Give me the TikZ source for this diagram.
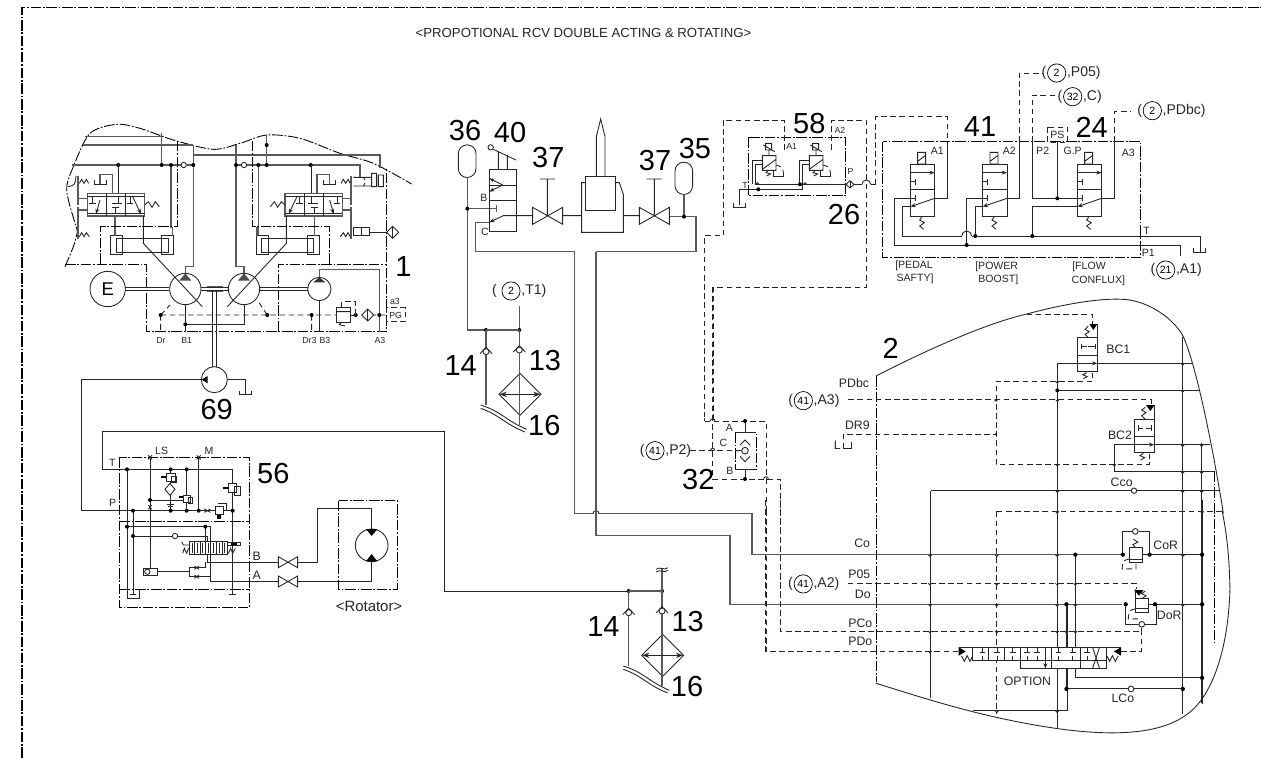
\documentclass[tikz,border=0pt]{standalone}
\usepackage{fontspec}
\setmainfont{Liberation Sans}
\usetikzlibrary{positioning,arrows.meta}

\tikzset{
  pipe/.style={line width=0.5pt, black!85},
  heavy/.style={line width=0.8pt, black!65},
  pilot/.style={line width=0.5pt, black!85, dash pattern=on 3.2pt off 2pt},
  casing/.style={line width=0.5pt, black, dash pattern=on 6pt off 1pt on 1pt off 1pt},
  bignum/.style={font=\fontsize{16.5}{17}\selectfont, inner sep=0pt},
  portlbl/.style={font=\fontsize{7}{8}\selectfont, inner sep=0pt, black!85},
  reflbl/.style={font=\fontsize{8}{9}\selectfont, inner sep=0pt, black!85},
  smalllbl/.style={font=\fontsize{6}{7}\selectfont, inner sep=0pt, black!85},
  tinylbl/.style={font=\fontsize{5}{6}\selectfont, inner sep=0pt, black!85},
  circnum/.style={draw, circle, minimum size=10.4pt, inner sep=0pt, font=\fontsize{6}{6}\selectfont},
}

\newcommand{\jdots}[1]{\foreach \x/\y in {#1} \fill (\x,\y) circle (6);}
\newcommand{\hopup}[2]{\foreach \x/\y in {#2} \draw[pipe] (\x-#1,\y) arc[start angle=180,end angle=360,radius=#1];}
\newcommand{\hopdn}[2]{\foreach \x/\y in {#2} \draw[pipe] (\x-#1,\y) arc[start angle=180,end angle=0,radius=#1];}
\newcommand{\checkvup}[2]{\draw[pipe,fill=white] (#1,#2+3) circle (9); \draw[pipe] (#1-18,#2+9) -- (#1,#2-10) -- (#1+18,#2+9);}
\newcommand{\checkh}[2]{\draw[pipe,fill=white] (#1,#2) circle (8);}
\newcommand{\drain}[2]{\draw[pipe] (#1-18,#2-12) -- (#1-18,#2) -- (#1+18,#2) -- (#1+18,#2-12);}
\newcommand{\portref}[6]{
  \node[circnum] (#1) at (#2) {#3};
  \node[reflbl,left=#6 of #1] (#1l) {#4};
  \node[reflbl,right=0.3pt of #1] (#1r) {#5};
}

% one half of the main pump: spool, servo and drain
\newcommand{\pumpside}{
  \draw[heavy] (142,310) rectangle (314,378);
  \draw[pipe] (142,318) -- (314,318) (142,370) -- (314,370) (200,310) -- (200,378) (257,310) -- (257,378);
  \draw[pipe] (158,318) -- (158,340) (148,340) -- (168,340);
  \draw[-{Stealth[length=3pt]},pipe] (180,330) -- (168,372);
  \draw[pipe] (235,318) -- (235,340) (215,340) -- (245,340) (225,352) -- (225,370) (215,352) -- (237,352);
  \draw[-{Stealth[length=3pt]},pipe] (278,320) -- (303,372);
  \draw[pipe] (270,318) -- (270,340) (260,340) -- (280,340);
  \draw[pipe] (314,345) -- (325,335) -- (336,352) -- (346,335) -- (358,350);
  \draw[heavy] (218,310) -- (218,253) -- (180,253) -- (180,282);
  \drain{180}{282}
  \draw[pipe] (235,225) -- (235,310);
  \draw[line width=1.2pt,black!65] (115,257) -- (115,345) (115,350) -- (115,448);
  \draw[heavy] (115,325) -- (142,325) (115,360) -- (142,360);
  \draw[pipe] (118,280) -- (125,268) -- (132,280) -- (139,268) -- (146,280);
  \draw[pipe] (118,440) -- (125,428) -- (132,440) -- (139,428) -- (148,440);
  \draw[pipe] (212,437) rectangle (248,494) (365,437) rectangle (400,494) (230,445) rectangle (385,487);
  \draw[heavy] (225,378) -- (225,437);
  \draw[pipe] (310,378) -- (310,460) -- (487,650);
  \draw[casing] (182,522) -- (182,410) -- (413,410) -- (413,150);
  \draw[heavy] (398,410) -- (398,437);
}

% return line group: two checks and the cooler
\newcommand{\returnset}[1]{
  \fill (168,720) circle (6);
  \fill (268,720) circle (6);
  \draw[heavy] (168,720) -- (268,720);
  \draw[heavy] (168,720) -- (168,945);
  \draw[heavy] (268,720) -- (268,1005);
  \checkvup{168}{782}
  \checkvup{268}{777}
  \draw[pipe,fill=white] (270,850) -- (333,913) -- (270,976) -- (207,913) -- cycle;
  \draw[heavy] (268,850) -- (268,1005);
  \draw[pipe,{Stealth[length=4pt]}-{Stealth[length=4pt]}] (209,913) -- (331,913);
  \draw[pipe] (152,945) .. controls (215,965) and (225,990) .. (290,1018);
  \draw[pipe] (152,955) .. controls (210,975) and (220,1000) .. (285,1026);
  \node[bignum] (n14#1) at (92,828) {14};
  \node[bignum] (n13#1) at (345,812) {13};
  \node[bignum] (n16#1) at (343,1008) {16};
}

% solenoid valve of block 41
\newcommand{\solvalve}[1]{
  \begin{scope}[shift={(#1,0)}]
    \draw[pipe] (0,222) rectangle (73,378) (0,298) -- (73,298);
    \draw[pipe,-{Stealth[length=3pt]}] (0,248) -- (73,248);
    \draw[pipe] (0,275) -- (14,275) (14,266) -- (14,284) (0,325) -- (14,325) (14,316) -- (14,334);
    \draw[pipe,{Stealth[length=3pt]}-] (0,350) -- (73,325);
    \draw[pipe] (22,187) rectangle (46,222) (22,214) -- (46,196);
    \draw[pipe] (36,378) -- (28,390) -- (42,398) -- (28,408) -- (40,418);
  \end{scope}
}

% pressure reducing cell of block 58
\newcommand{\rcvcell}[1]{
  \begin{scope}[shift={(#1,0)}]
    \draw[pipe] (67,197) rectangle (108,241) (67,238) -- (108,208);
    \draw[pipe] (77,160) rectangle (95,180) (87,180) -- (87,197) (70,165) -- (104,185);
    \draw[pipe] (67,212) -- (38,212) -- (38,283) (67,222) -- (46,222) -- (46,283);
    \draw[pipe] (85,241) -- (78,248) -- (92,252) -- (80,258);
    \draw[pipe,densely dashed] (108,225) .. controls (125,230) .. (130,245);
    \draw[pipe] (100,241) -- (100,260) -- (130,260) -- (130,245);
  \end{scope}
}

\begin{document}
\begin{tikzpicture}[x=0.02cm,y=-0.02cm]
\useasboundingbox (0,0) rectangle (1261,758);

% frame and title
\draw[casing,line width=0.7pt] (22,758) -- (22,7.5) -- (1261,7.5);
\node[font=\fontsize{7.5}{8}\selectfont, inner sep=0pt, black!85] (title) at (583.5,33) {<PROPOTIONAL RCV DOUBLE ACTING \& ROTATING>};

% main pump 1
\begin{scope}[shift={(40,90)},scale=1/3]
  \draw[casing] plot[smooth] coordinates {(75,530) (100,470) (112,425) (105,400) (80,300) (100,230) (150,130) (230,103) (300,115) (400,150) (520,178) (600,160) (680,135) (780,145) (900,190) (1000,220) (1115,282)};
  \draw[casing] (75,522) -- (320,522) -- (320,725) -- (1040,725) -- (1040,235);
  \draw[casing] (715,725) -- (715,522) -- (1040,522);
  \draw[heavy] (135,140) -- (365,140) (130,165) -- (460,165) (365,130) -- (365,225);
  \draw[heavy] (95,225) -- (422,225) (442,225) -- (460,225) (460,165) -- (460,530) -- (437,530) -- (437,552);
  \draw[heavy] (460,195) -- (1020,195) -- (1020,235);
  \draw[heavy] (588,165) -- (588,530) -- (612,530) -- (612,552);
  \draw[heavy] (680,135) -- (680,225);
  \draw[heavy] (590,225) -- (602,225) (622,225) -- (960,225) -- (960,260);
  \draw[heavy] (393,225) -- (393,415);
  \draw[heavy] (655,225) -- (655,437);
  \checkh{431}{225}
  \checkh{612}{225}
  \jdots{235/225,365/225,393/225,460/225,588/225,655/225,680/225,812/225,680/165}
  \pumpside
  \begin{scope}[shift={(1049,0)},xscale=-1]
    \pumpside
  \end{scope}
  \draw[pipe] (85,290) .. controls (105,285) .. (108,258);
  \draw[pipe] (940,262) -- (970,262) -- (975,270) (940,288) -- (970,288) -- (975,280) (970,262) -- (995,262) (970,288) -- (995,288) (995,250) rectangle (1010,290) (1015,255) rectangle (1030,290);
  \draw[pipe] (940,413) rectangle (988,437) (965,413) -- (965,437) (988,427) -- (1040,427);
  \draw[pipe,fill=white] (1058,409) -- (1076,427) -- (1058,445) -- (1040,427) -- cycle;
  \draw[pipe] (1058,409) -- (1058,445);
  % units on the shaft
  \draw[pipe] (203,597) circle (53);
  \node[font=\fontsize{10.5}{11}\selectfont] (engine) at (203,597) {E};
  \draw[pipe] (436,597) circle (47) (612,597) circle (47) (838,597) circle (35);
  \fill[black!70] (418,572) -- (454,572) -- (436,550) -- cycle;
  \fill[black!70] (594,572) -- (630,572) -- (612,550) -- cycle;
  \fill[black!80] (820,577) -- (856,577) -- (838,562) -- cycle;
  \draw[pipe] (255,593) -- (388,593) (255,601) -- (388,601) (483,593) -- (565,593) (483,601) -- (565,601) (660,593) -- (805,593) (660,601) -- (805,601);
  \draw[heavy] (500,590) -- (548,590) (500,604) -- (548,604);
  \draw[pipe] (518,604) -- (518,830) (528,604) -- (528,830);
  \draw[heavy] (838,562) -- (838,538) -- (1018,538) -- (1018,725);
  \draw[pipe] (838,632) -- (838,725);
  \draw[pipe] (436,645) -- (436,725) (436,703) -- (612,703) -- (612,645);
  \draw[pilot] (362,675) -- (1040,675) (362,675) -- (390,645) (682,675) -- (655,635) (362,675) -- (362,725) (815,675) -- (815,725);
  \jdots{362/675,682/675,815/675,947/675,1018/675,436/703}
  \draw[pipe,fill=white] (888,652) rectangle (930,697);
  \draw[pipe] (888,665) -- (930,665) (905,697) -- (898,704) -- (915,708);
  \draw[pilot] (905,652) -- (905,635) -- (947,635) -- (947,675) (930,675) -- (947,675);
  \draw[pipe,fill=white] (983,657) -- (1001,675) -- (983,693) -- (965,675) -- cycle;
  \draw[pipe] (983,657) -- (983,693);
  \draw[pilot,fill=white] (1040,653) rectangle (1096,694);
  \node[tinylbl] (pg) at (1067,675) {PG};
  \node[tinylbl] (a3) at (1065,633) {a3};
  \node[tinylbl] (dr) at (363,750) {Dr};
  \node[tinylbl] (b1) at (440,752) {B1};
  \node[tinylbl] (dr3) at (808,750) {Dr3};
  \node[tinylbl] (b3) at (855,750) {B3};
  \node[tinylbl] (a3b) at (1020,752) {A3};
  \node[bignum] (n1) at (1090,530) {1};
\end{scope}

% rotator circuit
\begin{scope}[shift={(60,350)},scale=1/3]
  \draw[pipe] (463,89) circle (39);
  \fill (443,78) -- (443,100) -- (425,89) -- cycle;
  \draw[pipe] (425,89) -- (65,89) -- (65,482) -- (520,482);
  \draw[pipe] (502,89) -- (555,89) -- (555,134);
  \drain{555}{134}
  \node[bignum] (n69) at (470,178) {69};
  \draw[pipe] (518,733) -- (518,358) -- (128,358) -- (128,244) -- (1153,244) -- (1153,723) -- (1806,723);
  \draw[casing] (178,322) rectangle (568,773) (178,515) -- (568,515) (178,717) -- (568,717);
  \draw[pipe] (264,316) -- (276,328) (264,328) -- (276,316) (410,316) -- (422,328) (410,328) -- (422,316);
  \draw[pipe] (270,322) -- (270,656) (416,322) -- (416,482);
  \node[smalllbl] (ls) at (305,302) {LS};
  \node[smalllbl] (m) at (447,302) {M};
  \node[smalllbl] (t) at (157,338) {T};
  \node[smalllbl] (p) at (158,458) {P};
  \node[bignum] (n56) at (640,370) {56};
  \draw[pipe] (201,358) -- (201,745) -- (237,745) -- (237,720);
  \draw[pipe] (219,482) -- (219,733) (209,733) -- (229,733) (508,733) -- (528,733);
  \draw[pipe] (201,530) -- (452,530) -- (452,695) -- (655,695);
  \draw[pipe] (219,558) -- (335,558) (355,558) -- (442,558) -- (442,575);
  \checkh{345}{558}
  \draw[pipe] (436,530) -- (436,578);
  \draw[pipe] (442,613) -- (442,636) -- (655,636);
  \draw[pipe] (332,358) -- (332,482) (380,358) -- (380,482) (270,450) -- (368,450);
  \draw[pipe,fill=white] (330,400) -- (345,418) -- (330,436) -- (315,418) -- cycle;
  \draw[pipe] (320,462) -- (342,462) (323,468) -- (338,468);
  % small reliefs
  \draw[pipe,fill=white] (318,370) rectangle (345,395) (334,378) rectangle (348,398);
  \draw[pipe,fill=white] (370,436) rectangle (390,456) (385,442) rectangle (398,460);
  \draw[pipe,fill=white] (506,400) rectangle (528,428) (522,408) rectangle (542,436);
  \draw[pipe,fill=white] (466,470) rectangle (490,492) (475,460) -- (498,460) -- (498,480);
  \draw[line width=1.2pt] (303,382) -- (318,382) (358,441) -- (370,441) (488,413) -- (506,413) (472,497) -- (484,497) (472,503) -- (484,503);
  \draw[pipe] (433,477) -- (451,487) (433,487) -- (451,477) (265,465) -- (275,478) (265,478) -- (275,465);
  \jdots{201/358,332/358,380/358,219/482,332/482,380/482,416/482,518/482,270/450,201/530,219/558,436/530}
  % spool of the rotator valve
  \draw[pipe] (388,575) rectangle (503,613);
  \foreach \x in {404,420,436,452,470,486} \draw[pipe] (\x,575) -- (\x,613);
  \draw[pipe] (396,580) -- (396,608) (412,580) -- (412,608) (428,580) -- (428,608) (444,580) -- (444,608) (460,580) -- (460,608) (478,580) -- (478,608) (494,580) -- (494,608);
  \draw[pipe] (365,575) -- (370,585) -- (388,585);
  \draw[pipe] (368,610) -- (373,595) -- (380,610) -- (386,595);
  \draw[pipe] (505,610) -- (512,595) -- (518,610) -- (526,595);
  \draw[pipe] (503,578) -- (542,578) -- (542,586) -- (503,586);
  \fill (514,578) rectangle (530,586);
  % shuttle and restrictors
  \draw[pipe] (250,656) rectangle (293,676);
  \checkh{262}{665}
  \draw[pipe] (293,663) -- (388,663) (388,653) -- (388,680) (388,653) -- (437,653) -- (437,636) (388,680) -- (452,680);
  \draw[pipe] (403,648) -- (417,658) (403,658) -- (417,648) (403,675) -- (417,685) (403,685) -- (417,675);
  \node[portlbl] (pb) at (590,620) {B};
  \node[portlbl] (pa) at (590,677) {A};
  \draw[pipe] (655,620) -- (713,653) -- (713,620) -- (655,653) -- cycle;
  \draw[pipe] (655,678) -- (713,711) -- (713,678) -- (655,711) -- cycle;
  \draw[pipe] (713,636) -- (773,636) -- (773,476) -- (935,476) -- (935,537);
  \draw[pipe] (713,695) -- (935,695) -- (935,634);
  \draw[casing] (836,452) rectangle (1012,717);
  \draw[pipe] (935,586) circle (49);
  \fill (918,537) -- (952,537) -- (935,558) -- cycle;
  \fill (918,634) -- (952,634) -- (935,612) -- cycle;
  \node[font=\fontsize{8.5}{9}\selectfont, inner sep=0pt, black!85] (rot) at (927,768) {<Rotator>};
\end{scope}

% pilot supply, valve 40, accumulators
\begin{scope}[shift={(430,90)},scale=1/3]
  \draw[pipe] (85,191) arc[start angle=180,end angle=360,radius=26.5] -- (138,236) arc[start angle=0,end angle=180,radius=26.5] -- cycle;
  \draw[heavy] (112,262) -- (112,720) -- (268,720);
  \draw[heavy] (112,356) -- (200,356) (200,345) -- (200,367);
  \fill (112,356) circle (6);
  \draw[pipe] (178,237) rectangle (260,423) (178,285) -- (260,285) (178,331) -- (260,331);
  \draw[pipe,fill=white] (182,172) circle (8);
  \draw[pipe] (190,178) -- (258,210) (205,237) -- (205,185) (232,237) -- (232,195);
  \draw[pipe,{Stealth[length=3pt]}-] (178,265) -- (218,285);
  \draw[pipe,{Stealth[length=3pt]}-] (178,305) -- (218,285);
  \draw[pipe,{Stealth[length=3pt]}-] (178,397) -- (220,377) -- (308,377);
  \draw[heavy] (178,397) -- (136,397) -- (136,485) -- (434,485) (498,485) -- (798,485) -- (798,380) -- (718,380);
  \draw[pipe] (308,352) -- (398,403) -- (398,352) -- (308,403) -- cycle (352,378) -- (352,267) (330,267) -- (375,267) (398,377) -- (455,377);
  \draw[pipe] (628,352) -- (718,403) -- (718,352) -- (628,403) -- cycle (673,378) -- (673,267) (650,267) -- (695,267) (580,377) -- (628,377);
  \draw[pipe] (466,278) -- (455,278) -- (455,427) -- (580,427) -- (580,313) -- (568,278) -- (556,278);
  \draw[pipe] (466,260) rectangle (556,361);
  \draw[pipe] (499,260) -- (499,140) -- (512,87) -- (525,140) -- (525,260);
  \draw[pipe] (735,243) arc[start angle=180,end angle=360,radius=26.5] -- (788,287) arc[start angle=0,end angle=180,radius=26.5] -- cycle;
  \draw[heavy] (762,313) -- (762,380);
  \fill (762,380) circle (6);
  \node[bignum] (n36) at (105,122) {36};
  \node[bignum] (n40) at (240,127) {40};
  \node[bignum] (n37a) at (355,203) {37};
  \node[bignum] (n37b) at (675,212) {37};
  \node[bignum] (n35) at (795,175) {35};
  \node[smalllbl] (pb40) at (162,325) {B};
  \node[smalllbl] (pc40) at (165,427) {C};
  \portref{ref2a}{243,603}{2}{(}{,T1)}{2.5pt}
  \draw[heavy] (268,647) -- (268,720);
  \returnset{a}
\end{scope}
\begin{scope}[shift={(572.7,351)},scale=1/3]
  \returnset{b}
  \draw[heavy] (268,720) -- (268,655);
  \draw[pipe] (250,655) .. controls (262,645) and (274,660) .. (286,650) (250,663) .. controls (262,653) and (274,668) .. (286,658);
\end{scope}

% main lines from the swing port to block 2
\draw[heavy] (574.7,251.7) -- (574.7,513.6) -- (752,513.6) -- (752,554.6) -- (1122,554.6);
\draw[heavy] (596,251.7) -- (596,535.7) -- (730,535.7) -- (730,604.3) -- (1122,604.3);
\fill[white] (596,513.6) circle (2.2);
\draw[pipe] (593,513.6) arc[start angle=180,end angle=360,radius=3];
\draw[heavy] (596,510) -- (596,535.7);

% block 58 and solenoid block 41
\begin{scope}[shift={(740,90)},scale=1/3]
  \draw[casing] (24,142) rectangle (317,317);
  \rcvcell{0}
  \rcvcell{141}
  \draw[pipe] (46,283) -- (318,283) (-2,298) -- (55,298) (55,298) -- (187,298) -- (187,283);
  \draw[pipe] (-2,298) -- (-2,346);
  \drain{-2}{352}
  \hopup{5}{52/283,195/283}
  \jdots{55/298,180/283}
  \draw[pipe,fill=white] (330,272) -- (342,283) -- (330,294) -- (318,283) -- cycle;
  \draw[pipe] (330,272) -- (330,294);
  \draw[pipe] (342,283) -- (366,283) (392,283) -- (407,283);
  \draw[pipe] (366,283) arc[start angle=180,end angle=360,radius=13];
  \draw[pilot] (407,283) -- (407,80) -- (622,80) -- (622,325) -- (584,325);
  \draw[pilot] (133,180) -- (133,90) -- (-51,90);
  \draw[pilot] (275,180) -- (275,90) -- (378,90) -- (378,592) -- (-81,592) -- (-81,990);
  \node[bignum] (n58) at (208,100) {58};
  \node[tinylbl] (a158) at (155,168) {A1};
  \node[tinylbl] (a258) at (300,122) {A2};
  \node[tinylbl] (p58) at (332,245) {P};
  \node[tinylbl] (t58) at (15,285) {T};
  \node[bignum] (n26) at (312,373) {26};
  % block 41
  \draw[casing] (428,155) rectangle (1202,502);
  \solvalve{511}
  \solvalve{728}
  \solvalve{1012}
  \draw[pipe] (511,325) -- (463,325) -- (463,465) -- (1322,465) -- (1322,497);
  \draw[pipe] (511,350) -- (487,350) -- (487,438) -- (665,438) (695,438) -- (1380,438) -- (1380,486);
  \draw[pipe] (665,438) arc[start angle=180,end angle=360,radius=15];
  \drain{1378}{487}
  \draw[pipe] (728,325) -- (680,325) -- (680,465);
  \draw[pipe] (728,350) -- (706,350) -- (706,438);
  \draw[pipe] (1012,350) -- (877,350) -- (877,438);
  \draw[pipe] (1012,325) -- (877,325) -- (877,155);
  \draw[pilot] (877,155) -- (877,15) -- (945,15);
  \draw[pipe] (952,325) -- (952,157);
  \draw[pilot] (922,112) rectangle (983,157);
  \node[smalllbl] (ps) at (952,135) {PS};
  \draw[pipe] (1085,325) -- (1123,325) -- (1123,155);
  \draw[pilot] (1123,155) -- (1123,65) -- (1172,65);
  \draw[pipe] (801,325) -- (838,325) -- (838,155);
  \draw[pilot] (838,155) -- (838,-51) -- (910,-51);
  \draw[pipe] (584,325) -- (622,325) -- (622,155);
  \jdots{680/465,706/438,877/438,952/325}
  \node[bignum] (n41) at (720,110) {41};
  \node[bignum] (n24) at (1055,112) {24};
  \node[smalllbl] (a1a) at (592,182) {A1};
  \node[smalllbl] (a2a) at (808,182) {A2};
  \node[smalllbl] (p2) at (908,182) {P2};
  \node[smalllbl] (gp) at (998,182) {G.P};
  \node[smalllbl] (a3c) at (1165,190) {A3};
  \node[smalllbl] (t41) at (1220,422) {T};
  \node[smalllbl] (p141) at (1225,488) {P1};
  \node[smalllbl] (pedal) at (522,528) {[PEDAL};
  \node[smalllbl] (safty) at (525,565) {SAFTY]};
  \node[smalllbl] (power) at (770,530) {[POWER};
  \node[smalllbl] (boost) at (775,570) {BOOST]};
  \node[smalllbl] (flow) at (1047,530) {[FLOW};
  \node[smalllbl] (conflux) at (1075,572) {CONFLUX]};
  \portref{ref21}{1277,540}{21}{(}{,A1)}{0.3pt}
  \portref{ref32}{998,20}{32}{(}{,C)}{0.3pt}
  \portref{ref2b}{1237,62}{2}{(}{,PDbc)}{0.3pt}
  \portref{ref2c}{950,-51}{2}{(}{,P05)}{0.3pt}
\end{scope}
\draw[pilot] (723.3,120) -- (723.3,235.7) -- (704.7,235.7) -- (704.7,417);

% shuttle 32
\begin{scope}[shift={(690,380)},scale=1/3]
  \draw[pilot] (44,123) -- (228,123) -- (228,390);
  \draw[pilot] (68,297) -- (272,297) -- (272,390);
  \draw[pilot] (44,123) -- (44,115);
  \draw[pilot] (0,212) -- (135,212);
  \draw[pilot] (68,-279) -- (68,297);
  \hopup{7}{68/123,68/212,228/297}
  \draw[casing] (135,157) rectangle (198,267);
  \draw[pipe] (135,157) -- (198,157) (135,267) -- (198,267) (165,123) -- (165,157) (165,267) -- (165,297);
  \draw[pipe,fill=white] (165,212) circle (10);
  \draw[pipe] (150,195) -- (165,180) -- (180,195) (150,229) -- (165,245) -- (180,229) (135,212) -- (155,212);
  \jdots{165/123,165/297}
  \node[smalllbl] (a32) at (118,145) {A};
  \node[smalllbl] (c32) at (100,190) {C};
  \node[smalllbl] (b32) at (120,273) {B};
  \node[bignum] (n32) at (25,300) {32};
  \portref{ref41a}{-105,212}{41}{(}{,P2)}{0.3pt}
  \portref{ref41b}{340,62}{41}{(}{,A3)}{0.3pt}
\end{scope}
\draw[pilot] (780.7,510) -- (780.7,631);
\draw[pilot] (766,510) -- (766,651);

% control valve block 2, upper half
\begin{scope}[shift={(780,300)},scale=1/3]
  \draw[pipe] (288,228) .. controls (450,145) and (620,70) .. (740,42) .. controls (860,10) and (980,-10) .. (1050,0) .. controls (1130,15) and (1190,70) .. (1210,110) .. controls (1250,200) and (1300,450) .. (1330,640);
  \draw[casing] (288,228) -- (288,1147);
  \node[bignum] (n2) at (332,145) {2};
  \node[portlbl] (pdbc) at (222,248) {PDbc};
  \node[portlbl] (dr9) at (232,377) {DR9};
  \node[portlbl] (lr) at (172,435) {L};
  \node[portlbl] (bc1) at (1015,147) {BC1};
  \node[portlbl] (bc2) at (1020,405) {BC2};
  \node[portlbl] (cco) at (1025,548) {Cco};
  \draw[pipe] (832,190) -- (832,1285);
  \draw[pipe] (1208,110) -- (1208,1243);
  \draw[pipe] (1265,430) -- (1265,1210);
  % BC1
  \draw[pipe] (893,113) rectangle (952,215) (893,165) -- (952,165) (952,72) -- (952,113);
  \draw[pipe] (903,140) -- (920,140) (903,132) -- (903,148) (925,140) -- (945,140) (945,132) -- (945,148);
  \fill (928,72) -- (952,72) -- (940,90) -- cycle;
  \draw[pipe] (925,113) -- (915,103) -- (928,95) -- (915,88) -- (925,78);
  \draw[pipe] (920,218) -- (908,224) -- (922,230) -- (910,236);
  \draw[pilot] (740,42) -- (938,42) -- (938,72);
  \draw[pipe,-{Stealth[length=3pt]}] (832,190) -- (952,190);
  \draw[pipe] (952,190) -- (1240,190) (832,271) -- (1258,271);
  \draw[pilot] (938,218) -- (938,244) -- (648,244) -- (648,493) -- (1108,493) -- (1108,462);
  \draw[pilot] (205,299) -- (1113,299) -- (1113,315);
  \draw[pilot] (190,445) -- (190,402) -- (648,402);
  \draw[pipe] (190,445) -- (215,445) -- (215,425);
  \fill (832,271) circle (6);
  \fill (648,402) circle (2.5);
  % BC2
  \draw[pipe] (1064,357) rectangle (1123,458) (1064,408) -- (1123,408) (1123,315) -- (1123,357);
  \draw[pipe] (1074,384) -- (1090,384) (1074,376) -- (1074,392) (1097,384) -- (1115,384) (1115,376) -- (1115,392);
  \fill (1098,315) -- (1124,315) -- (1111,333) -- cycle;
  \draw[pipe] (1095,357) -- (1085,347) -- (1098,338) -- (1085,330) -- (1096,322);
  \draw[pipe] (1090,460) -- (1080,467) -- (1094,473) -- (1082,480);
  \draw[pipe,-{Stealth[length=3pt]}] (1003,434) -- (1123,434);
  \draw[pipe] (1123,434) -- (1290,434) (1003,434) -- (1003,515) -- (1305,515);
  \draw[pipe] (452,572) -- (1053,572) (1072,572) -- (1320,572);
  \checkh{1062}{572}
  \hopdn{5}{1208/190,832/244,1208/271,648/299,832/299,1208/434,1265/434,832/493,1003/493,1208/515,1265/515,832/572,1208/572,1265/572}
\end{scope}

% control valve block 2, lower half
\begin{scope}[shift={(680,500)},scale=1/2.8]
  \draw[pipe] (548,513) .. controls (700,560) and (850,610) .. (1056,640) .. controls (1200,660) and (1340,660) .. (1420,600) .. controls (1490,550) and (1535,420) .. (1540,250) .. controls (1538,150) and (1530,90) .. (1518,30);
  \draw[casing] (1497,-80) -- (1497,400);
  \draw[pipe] (700,-24) -- (700,555);
  \draw[pipe] (1295,153) -- (1462,153);
  \draw[pipe] (1312,292) -- (1462,292);
  \draw[pilot] (887,32) -- (1520,32) (887,32) -- (887,600);
  \draw[pilot] (470,233) -- (1278,233) -- (1278,250);
  \draw[pilot] (240,0) -- (240,423) -- (780,423);
  \draw[pilot] (280,0) -- (280,367) -- (1293,367) -- (1293,358);
  \draw[pilot] (1235,423) -- (1293,423) -- (1293,367);
  \draw[pipe] (820,590) -- (1085,590) -- (1085,292);
  \draw[pipe] (1107,153) -- (1107,498) -- (1462,498);
  \draw[pipe] (1082,529) -- (1254,529) (1272,529) -- (1408,529);
  \checkh{1263}{529}
  \draw[pipe] (1408,0) -- (1408,600) (1462,0) -- (1462,570);
  % CoR
  \draw[pipe,fill=white] (1258,133) rectangle (1295,175) (1258,167) -- (1295,167);
  \draw[pipe] (1240,153) -- (1240,88) -- (1266,88) (1284,88) -- (1315,88) -- (1315,153);
  \checkh{1275}{88}
  \draw[pipe] (1275,133) -- (1268,125) -- (1282,118) -- (1270,110);
  \draw[pilot] (1258,165) .. controls (1240,170) .. (1238,193) -- (1277,193) -- (1277,175);
  % DoR
  \draw[pipe,fill=white] (1275,275) rectangle (1312,315) (1275,305) -- (1312,305);
  \draw[pipe] (1248,292) -- (1248,348) -- (1284,348) (1302,348) -- (1333,348) -- (1333,292);
  \checkh{1293}{348}
  \fill (1272,252) -- (1298,252) -- (1285,268) -- cycle;
  \draw[pipe] (1295,275) -- (1305,268) -- (1292,262) -- (1303,255) (1275,250) -- (1275,275);
  \draw[pilot] (1275,305) .. controls (1258,308) .. (1255,333) -- (1293,333);
  % spool with OPTION
  \draw[pipe,fill=white] (820,412) rectangle (1195,450) (952,450) -- (952,472) -- (1195,472) -- (1195,450);
  \foreach \x in {865,908} \draw[pipe] (\x,412) -- (\x,450);
  \foreach \x in {952,1040,1122} \draw[pipe] (\x,412) -- (\x,472);
  \foreach \x in {847,888,932,972,1000,1060,1100,1140}{
    \draw[pipe] (\x,412) -- (\x,428) (\x-8,428) -- (\x+8,428);
    \draw[pipe] (\x,450) -- (\x,436);
  }
  \draw[pipe,-{Stealth[length=3pt]}] (1023,412) -- (1023,472);
  \draw[pipe] (1155,412) -- (1175,472) (1175,412) -- (1155,472);
  \fill (780,412) -- (780,436) -- (800,424) -- cycle;
  \fill (1235,412) -- (1235,436) -- (1215,424) -- cycle;
  \draw[pipe] (780,412) -- (820,412) (1195,412) -- (1235,412);
  \draw[pipe] (788,436) -- (796,452) -- (804,436) -- (812,452) -- (820,436);
  \draw[pipe] (1195,436) -- (1203,452) -- (1211,436) -- (1219,452) -- (1227,436);
  \draw[pipe] (1082,292) -- (1082,412) (1107,292) -- (1107,412);
  \draw[pipe] (1082,472) -- (1082,529) (1107,472) -- (1107,498);
  \jdots{1107/153,1240/153,1315/153,1462/153,1082/292,1248/292,1330/292,1462/292,1462/498,1082/529,1408/529}
  \hopdn{5}{700/153,887/153,1056/153,1408/153,700/233,887/233,1056/233,1107/233,700/292,887/292,1056/292,1107/292,1408/292,700/367,887/367,1056/367,1082/367,1107/367,700/423,1056/32,1462/32,887/590,1056/590}
  \node[portlbl] (co) at (510,122) {Co};
  \node[portlbl] (p05) at (502,207) {P05};
  \node[portlbl] (do) at (512,265) {Do};
  \node[portlbl] (pco) at (505,345) {PCo};
  \node[portlbl] (pdo) at (505,397) {PDo};
  \node[portlbl] (opt) at (973,507) {OPTION};
  \node[portlbl] (lco) at (1240,555) {LCo};
  \node[portlbl] (cor) at (1360,128) {CoR};
  \node[portlbl] (dor) at (1370,322) {DoR};
  \portref{ref41d}{345,235}{41}{(}{,A2)}{0.3pt}
\end{scope}
\end{tikzpicture}
\end{document}
